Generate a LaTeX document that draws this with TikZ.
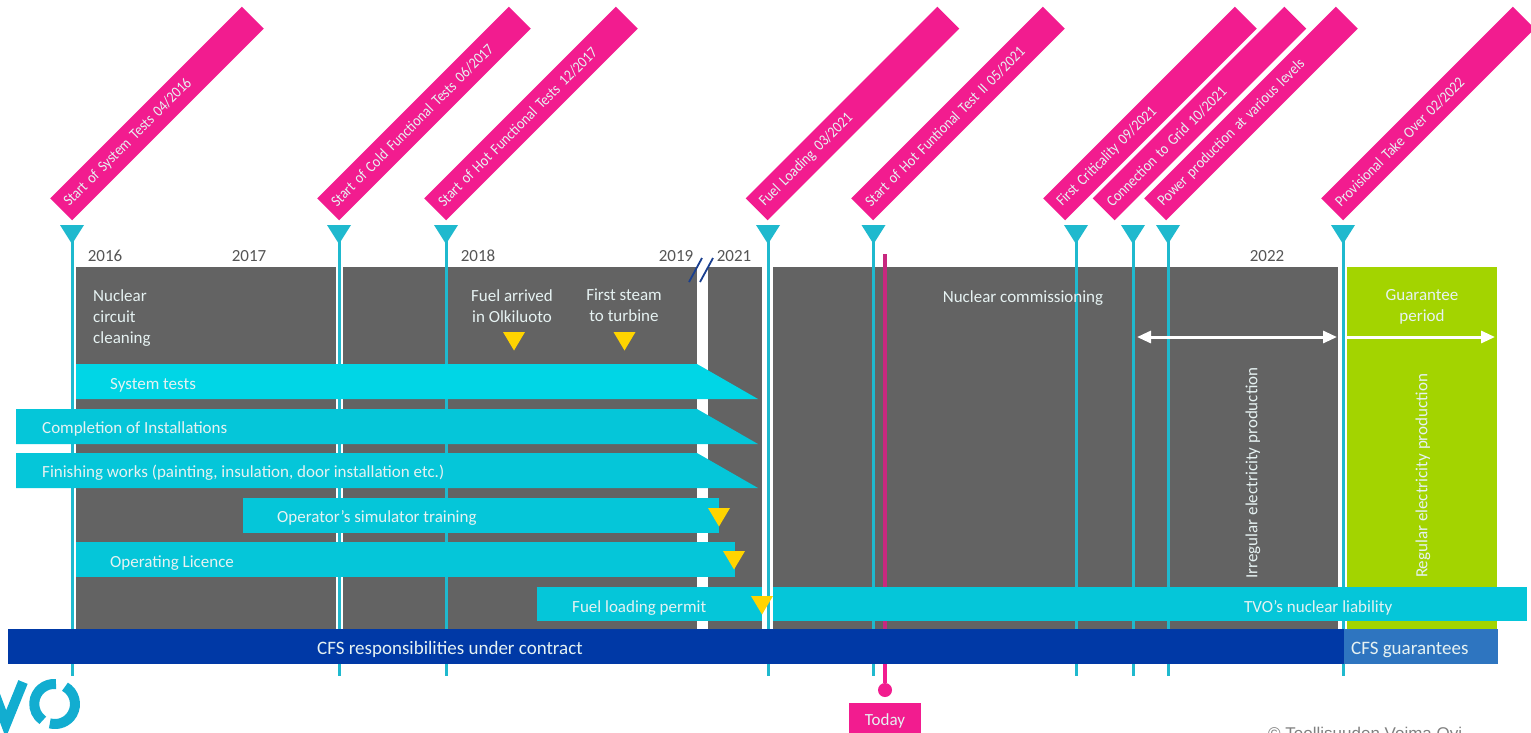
\documentclass[tikz,border=0pt]{standalone}
\usepackage{fontspec}
\setmainfont{Carlito}
\newfontfamily\copyfont{Liberation Sans}
\newfontfamily\bannerfont[FakeStretch=0.89]{Carlito}
\definecolor{pinkb}{HTML}{F21C8F}
\definecolor{tealbar}{HTML}{05C6D9}
\definecolor{tealbright}{HTML}{00D6E6}
\definecolor{tealline}{HTML}{1FB9CE}
\definecolor{grayb}{HTML}{636363}
\definecolor{greenb}{HTML}{A3D400}
\definecolor{bluebar}{HTML}{0039A6}
\definecolor{bluelight}{HTML}{2E75C0}
\definecolor{goldm}{HTML}{FFD400}
\definecolor{todayline}{HTML}{C8287F}
\definecolor{slashc}{HTML}{1A3F8F}
\definecolor{logoc}{HTML}{12ADD0}
\definecolor{yeartext}{HTML}{555555}
\definecolor{softw}{HTML}{E6F2F2}
\usetikzlibrary{arrows.meta}
\tikzset{
  x=1pt,y=-1pt,
  banner/.style={fill=pinkb,rotate=45,minimum height=31pt,text width=256pt,inner xsep=7.5pt,inner ysep=0pt,minimum width=271pt,align=left,text=softw,font=\bannerfont\fontsize{15.5}{17}\selectfont},
  year/.style={text=yeartext,inner sep=0pt,font=\fontsize{17}{19}\selectfont},
  lab/.style={text=softw,inner sep=0pt,font=\fontsize{17}{21}\selectfont},
  barlab/.style={lab,anchor=west},
  biglab/.style={barlab,font=\fontsize{19}{21}\selectfont},
  tick/.style={draw=tealline,line width=3pt},
  mark tri/.style={fill=tealline},
  gold/.style={fill=goldm},
  wharrow/.style={draw=white,line width=3pt,{Triangle[width=12pt,length=14pt]}-{Triangle[width=12pt,length=14pt]}},
  wharrowone/.style={draw=white,line width=3pt,-{Triangle[width=12pt,length=14pt]}},
}
\begin{document}
\begin{tikzpicture}
\useasboundingbox (0,0) rectangle (1531,732);
\clip (0,0) rectangle (1531,732);
\fill[white] (0,0) rectangle (1531,732);
% grey and green panels
\fill[grayb] (76,267) rectangle (336,629);
\fill[grayb] (343,267) rectangle (697,629);
\fill[grayb] (708,267) rectangle (762,629);
\fill[grayb] (773,267) rectangle (1338,629);
\fill[greenb] (1347,267) rectangle (1497,629);
% timeline ticks
\foreach \n/\x in {a/72,b/339,c/446,d/768,e/873.5,f/1076,g/1133,h/1168,i/1343}{
  \coordinate (\n top) at (\x,235);
  \coordinate (\n bot) at (\x,676);
  \draw[tick] (\n top) -- (\n bot);
  \fill[mark tri] (\x-12,225) -- (\x+12,225) -- (\x,244) -- cycle;
}
% today line
\node[circle,fill=pinkb,minimum size=14pt,inner sep=0pt] (todaydot) at (885,690) {};
\coordinate (todaytop) at (885,254);
\coordinate (todaymid) at (885,629);
\draw[draw=todayline,line width=4.5pt] (todaytop) -- (todaymid);
\draw[draw=pinkb,line width=4.5pt] (todaymid) -- (todaydot);
\node[fill=pinkb,minimum width=72pt,text height=22pt,text depth=8pt,inner sep=0pt,text=softw,font=\fontsize{17}{19}\selectfont] (today) at (885,718) {Today};
% bars
\fill[tealbright] (76,364) -- (697,364) -- (758,399) -- (76,399) -- cycle;
\fill[tealbar] (16,409) -- (697,409) -- (758,444) -- (16,444) -- cycle;
\fill[tealbar] (16,453) -- (697,453) -- (758,488) -- (16,488) -- cycle;
\fill[tealbar] (243,498) rectangle (719,533);
\fill[tealbar] (76,542) rectangle (735,577);
\fill[tealbar] (537,587) rectangle (1527,621);
% strip over permit bar at fuel loading
\fill[white] (762,587) rectangle (773,621);
\draw[tick] (768,587) -- (768,621);
% bottom bars
\fill[bluebar] (8,629) rectangle (1344,664);
\fill[bluelight] (1344,629) rectangle (1498,664);
% gold markers
\foreach \x/\y in {514/332,624.5/332,719/508,734/551,762/596}{
  \fill[gold] (\x-11,\y) -- (\x+11,\y) -- (\x,\y+18.5) -- cycle;
}
% break slashes
\draw[slashc,line width=1.8pt] (702,258) -- (689,282);
\draw[slashc,line width=1.8pt] (713,258) -- (700,282);
% banners
\node[banner] (b1) at (157,113.5) {Start of System Tests 04/2016};
\node[banner] (b2) at (424,113.5) {Start of Cold Functional Tests 06/2017};
\node[banner] (b3) at (531,113.5) {Start of Hot Functional Tests 12/2017};
\node[banner] (b4) at (852.5,113.5) {Fuel Loading 03/2021};
\node[banner] (b5) at (958,113.5) {Start of Hot Funtional Test II 05/2021};
\node[banner] (b6) at (1150,113.5) {First Criticality 09/2021};
\node[banner] (b7) at (1199.5,113.5) {Connection to Grid 10/2021};
\node[banner] (b8) at (1251,113.5) {Power production at various levels};
\node[banner] (b9) at (1428,113.5) {Provisional Take Over 02/2022};
% years
\node[year] (y16) at (105,256) {2016};
\node[year] (y17) at (249,256) {2017};
\node[year] (y18) at (478,256) {2018};
\node[year] (y19) at (676,256) {2019};
\node[year] (y21) at (734,256) {2021};
\node[year] (y22) at (1267,256) {2022};
% panel labels
\node[lab,anchor=north west,align=left] (ncc) at (93,289) {Nuclear\\circuit\\cleaning};
\node[lab,anchor=north,align=center] (fuel) at (512,289) {Fuel arrived\\in Olkiluoto};
\node[lab,anchor=north,align=center] (steam) at (624,289) {First steam\\to turbine};
\node[lab] (ncom) at (1023,298) {Nuclear commissioning};
\node[lab,anchor=north,align=center] (guar) at (1422,289.5) {Guarantee\\period};
% bar labels
\node[barlab] (l1) at (110,385) {System tests};
\node[barlab] (l2) at (42,429) {Completion of Installations};
\node[barlab] (l3) at (42,473) {Finishing works (painting, insulation, door installation etc.)};
\node[barlab] (l4) at (277,518) {Operator's simulator training};
\node[barlab] (l5) at (110,563) {Operating Licence};
\node[barlab] (l6) at (572,608) {Fuel loading permit};
\node[barlab] (l7) at (1244,608) {TVO's nuclear liability};
\node[biglab] (l8) at (317,649) {CFS responsibilities under contract};
\node[biglab] (l9) at (1351,650) {CFS guarantees};
\node[lab,rotate=90] (irr) at (1253,473) {Irregular electricity production};
\node[lab,rotate=90] (reg) at (1423,476) {Regular electricity production};
% arrows
\coordinate (ar1) at (1137,337);
\coordinate (ar2) at (1337,337);
\coordinate (ar3) at (1347,337);
\coordinate (ar4) at (1495,337);
\draw[wharrow] (ar1) -- (ar2);
\draw[wharrowone] (ar3) -- (ar4);
% logo fragment
\draw[draw=logoc,line width=10pt] (-6,692) -- (6,724) -- (23,682);
\draw[draw=logoc,line width=10pt] (56,684) arc[start angle=85,end angle=235,radius=20pt];
\draw[draw=logoc,line width=10pt] (65,686.7) arc[start angle=60,end angle=-105,radius=20pt];
\node[text=gray,anchor=base west,inner sep=0pt,font=\copyfont\fontsize{17}{19}\selectfont] (copy) at (1268,739) {© Teollisuuden Voima Oyj};
\end{tikzpicture}
\end{document}
